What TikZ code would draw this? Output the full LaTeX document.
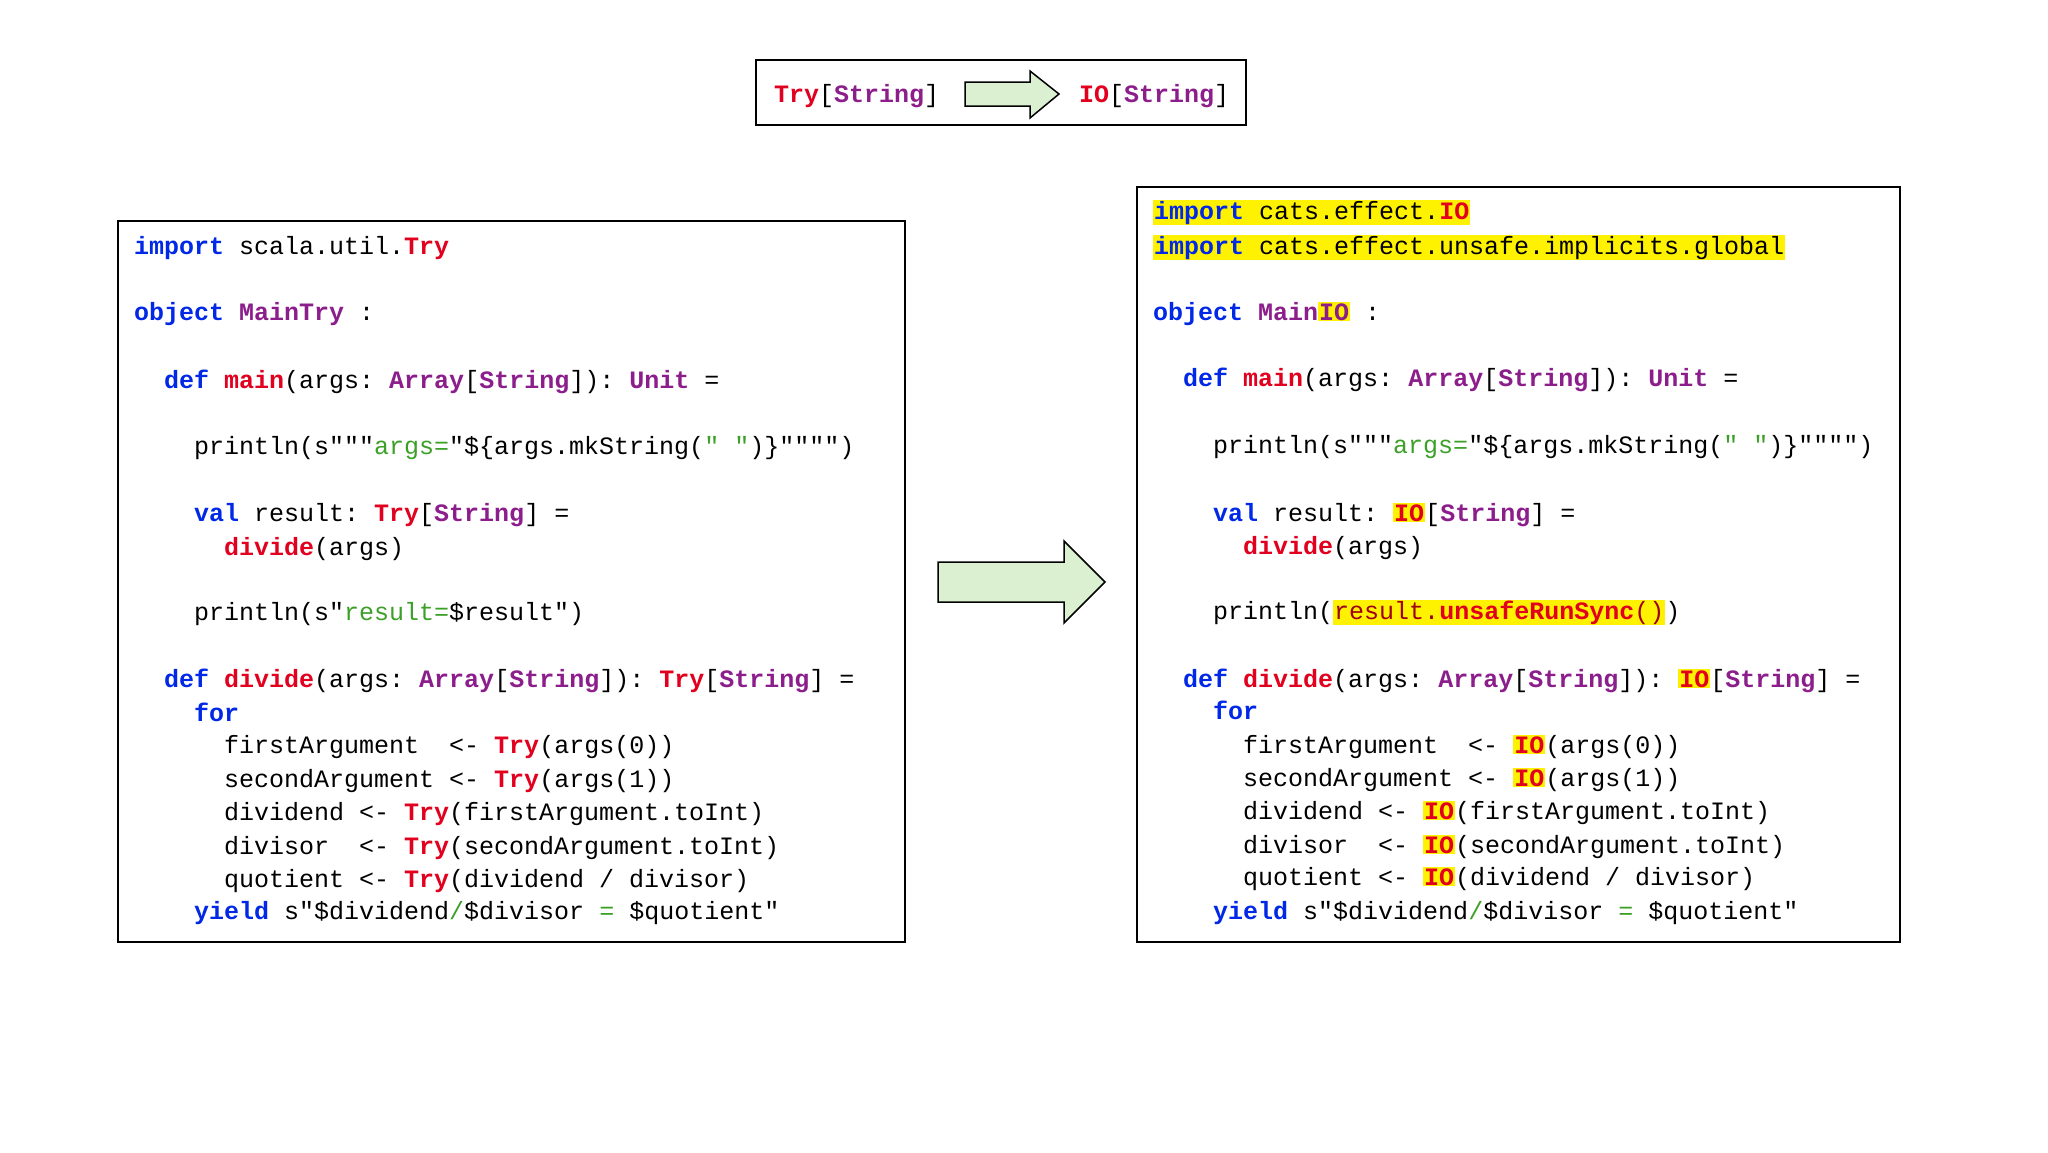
\documentclass[tikz,border=0pt]{standalone}
\usepackage{fontspec}
\setmonofont{Liberation Mono}
\usepackage{xcolor}
\definecolor{kwblue}{RGB}{0,40,230}
\definecolor{kwred}{RGB}{225,0,30}
\definecolor{typur}{RGB}{140,30,140}
\definecolor{strgreen}{RGB}{60,160,40}
\definecolor{arrfill}{RGB}{218,240,208}
\newcommand\kw[1]{\textcolor{kwblue}{\bfseries #1}}
\newcommand\rd[1]{\textcolor{kwred}{\bfseries #1}}
\newcommand\ty[1]{\textcolor{typur}{\bfseries #1}}
\newcommand\gr[1]{\textcolor{strgreen}{#1}}
\newcommand\hl[1]{{\setlength{\fboxsep}{1pt}\colorbox{yellow}{#1}}}
\tikzset{code/.style={anchor=base west,inner sep=0pt,font=\ttfamily\fontsize{25}{30}\selectfont},
 box/.style={draw,line width=2pt},
 bigarrow/.style={draw,line width=1.5pt,fill=arrfill}}
\begin{document}
\begin{tikzpicture}[x=1pt,y=-1pt]
\useasboundingbox (0,0) rectangle (2048,1152);
% top box
\draw[box,line width=1.5pt] (756,60) rectangle (1246,125);
\node[code] (t1) at (774,102) {\rd{Try}[\ty{String}]};
\node[code] (t2) at (1079,102) {\rd{IO}[\ty{String}]};
\draw[bigarrow] (965,82) -- (1030,82) -- (1030,71) -- (1059,94) -- (1030,118) -- (1030,106) -- (965,106) -- cycle;
% big arrow
\draw[bigarrow] (938,562) -- (1064,562) -- (1064,541) -- (1105,582) -- (1064,623) -- (1064,602) -- (938,602) -- cycle;
% left box
\draw[box] (118,221) rectangle (905,942);
\def\L{134}\def\Lb{164}\def\Lc{194}\def\Ld{224}
\node[code] at (\L,254) {\kw{import} scala.util.\rd{Try}};
\node[code] at (\L,320) {\kw{object} \ty{MainTry} :};
\node[code] at (\Lb,388) {\kw{def} \rd{main}(args: \ty{Array}[\ty{String}]): \ty{Unit} =};
\node[code] at (\Lc,454) {println(s"""\gr{args=}"\$\{args.mkString(\gr{" "})\}"""")};
\node[code] at (\Lc,521) {\kw{val} result: \rd{Try}[\ty{String}] =};
\node[code] at (\Ld,555) {\rd{divide}(args)};
\node[code] at (\Lc,620) {println(s"\gr{result=}\$result")};
\node[code] at (\Lb,687) {\kw{def} \rd{divide}(args: \ty{Array}[\ty{String}]): \rd{Try}[\ty{String}] =};
\node[code] at (\Lc,721) {\kw{for}};
\node[code] at (\Ld,753) {firstArgument~~<- \rd{Try}(args(0))};
\node[code] at (\Ld,787) {secondArgument <- \rd{Try}(args(1))};
\node[code] at (\Ld,820) {dividend <- \rd{Try}(firstArgument.toInt)};
\node[code] at (\Ld,854) {divisor~~<- \rd{Try}(secondArgument.toInt)};
\node[code] at (\Ld,887) {quotient <- \rd{Try}(dividend / divisor)};
\node[code] at (\Lc,919) {\kw{yield} s"\$dividend\gr{/}\$divisor \gr{=} \$quotient"};
% right box
\draw[box] (1137,187) rectangle (1900,942);
\def\R{1153}\def\Rb{1183}\def\Rc{1213}\def\Rd{1243}
\node[code] at (\R,219) {\hl{\kw{import} cats.effect.\rd{IO}}};
\node[code] at (\R,254) {\hl{\kw{import} cats.effect.unsafe.implicits.global}};
\node[code] at (\R,320) {\kw{object} \ty{Main}\hl{\ty{IO}} :};
\node[code] at (\Rb,386) {\kw{def} \rd{main}(args: \ty{Array}[\ty{String}]): \ty{Unit} =};
\node[code] at (\Rc,453) {println(s"""\gr{args=}"\$\{args.mkString(\gr{" "})\}"""")};
\node[code] at (\Rc,521) {\kw{val} result: \hl{\rd{IO}}[\ty{String}] =};
\node[code] at (\Rd,554) {\rd{divide}(args)};
\node[code] at (\Rc,619) {println(\hl{\textcolor{kwred!70!black}{result.}\rd{unsafeRunSync}\textcolor{kwred!70!black}{()}})};
\node[code] at (\Rb,687) {\kw{def} \rd{divide}(args: \ty{Array}[\ty{String}]): \hl{\rd{IO}}[\ty{String}] =};
\node[code] at (\Rc,719) {\kw{for}};
\node[code] at (\Rd,753) {firstArgument~~<- \hl{\rd{IO}}(args(0))};
\node[code] at (\Rd,786) {secondArgument <- \hl{\rd{IO}}(args(1))};
\node[code] at (\Rd,819) {dividend <- \hl{\rd{IO}}(firstArgument.toInt)};
\node[code] at (\Rd,853) {divisor~~<- \hl{\rd{IO}}(secondArgument.toInt)};
\node[code] at (\Rd,885) {quotient <- \hl{\rd{IO}}(dividend / divisor)};
\node[code] at (\Rc,919) {\kw{yield} s"\$dividend\gr{/}\$divisor \gr{=} \$quotient"};
\end{tikzpicture}
\end{document}
